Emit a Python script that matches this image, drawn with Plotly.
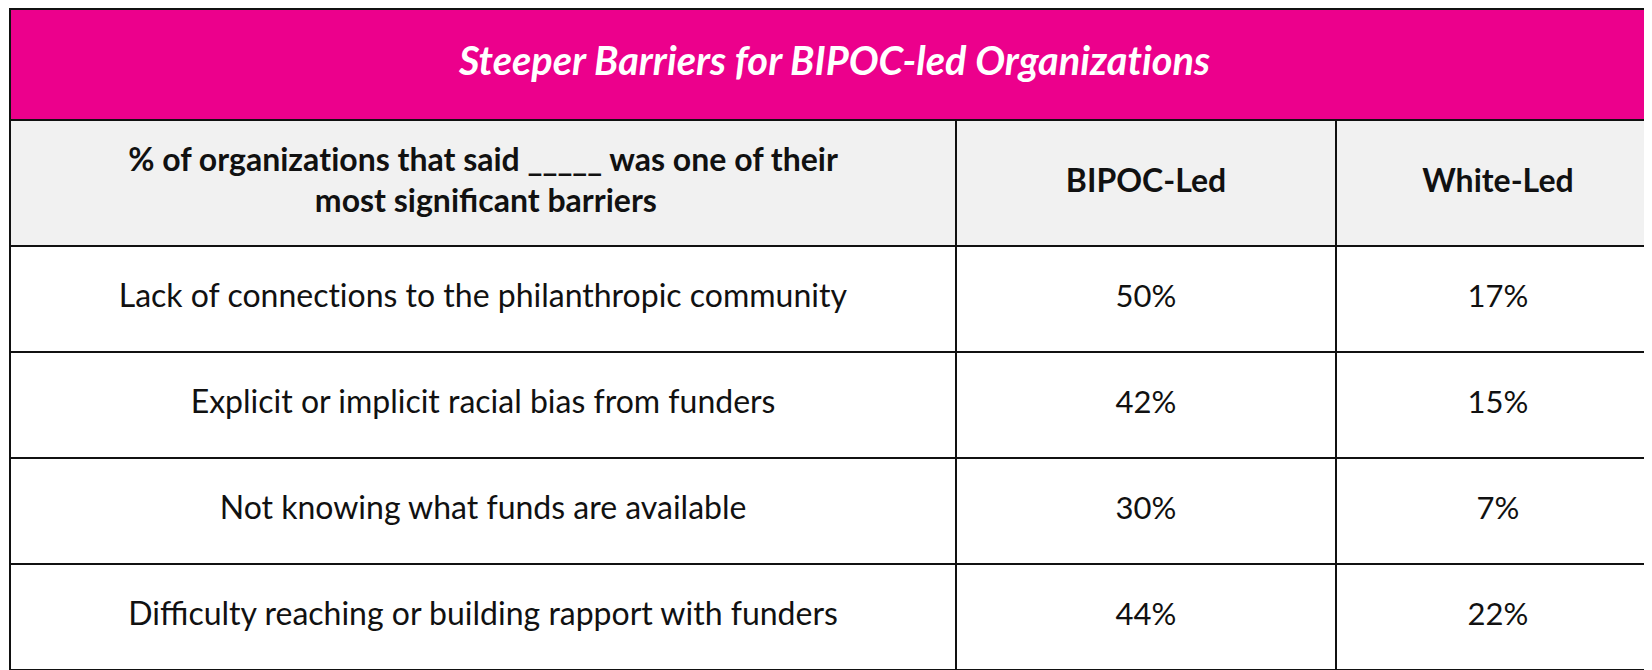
import plotly.graph_objects as go

title = "Steeper Barriers for BIPOC-led Organizations"
header_line1 = "% of organizations that said _____ was one of their"
header_line2 = "most significant barriers"
col_heads = ["BIPOC-Led", "White-Led"]
barriers = [
    "Lack of connections to the philanthropic community",
    "Explicit or implicit racial bias from funders",
    "Not knowing what funds are available",
    "Difficulty reaching or building rapport with funders",
]
bipoc_led = [50, 42, 30, 44]
white_led = [17, 15, 7, 22]

PINK = "#EC008C"
GREY = "#F1F1F1"
INK = "#111111"
FONT = "Lato"
NB = "\u00a0"


def sized(txt, size):
    # break the "ti" ligature of the installed Lato with a sub-span
    txt = txt.replace("tions", f'<span style="font-size:{size - 0.1}px">t</span>ions')
    return f'<span style="font-size:{size}px">{txt}</span>'


def lead(size):
    # an (invisible) first line used to push the text down inside its cell
    return f'<span style="font-size:{size}px">{NB}</span><br>'


fig = go.Figure()

TOP = 1          # tables draw 8px below their domain top
H_TITLE = 111
H_HEAD = 126
H_ROW = 106
PLOT_H = 670 - TOP
split = (670 - (TOP + H_TITLE)) / PLOT_H

# title band
fig.add_trace(go.Table(
    domain=dict(x=[0, 1], y=[split, 1]),
    columnwidth=[1],
    header=dict(values=[lead(6.5) + "<b><i>" + sized(title, 39.7) + "</i></b>"], fill_color=PINK,
                line=dict(color=INK, width=2), height=H_TITLE, align="center",
                font=dict(family=FONT, size=39.7, color="white")),
    cells=dict(values=[[]]),
))

head_vals = [
    lead(1) + "<b>" + sized(header_line1, 32) + "</b><br><b>" + sized(NB * 24 + header_line2, 32) + "</b>",
] + [lead(24) + "<b>" + sized(h, 32) + "</b>" for h in col_heads]

cell_vals = [
    [lead(11) + sized(b, 32) for b in barriers],
    [lead(11) + sized(f"{v}%", 31) for v in bipoc_led],
    [lead(11) + sized(f"{v}%", 31) for v in white_led],
]

fig.add_trace(go.Table(
    domain=dict(x=[0, 1], y=[0, split]),
    columnwidth=[937, 376, 321],
    header=dict(values=head_vals, fill_color=GREY,
                line=dict(color=INK, width=2), height=H_HEAD, align="center",
                font=dict(family=FONT, size=[32, 31, 31], color=INK)),
    cells=dict(values=cell_vals,
               fill_color="white", line=dict(color=INK, width=2), height=H_ROW,
               align="center", font=dict(family=FONT, size=32, color=INK)),
))

fig.update_layout(width=1652, height=670, margin=dict(l=2, r=0, t=TOP, b=0),
                  paper_bgcolor="white")
fig.write_html("out.html")
